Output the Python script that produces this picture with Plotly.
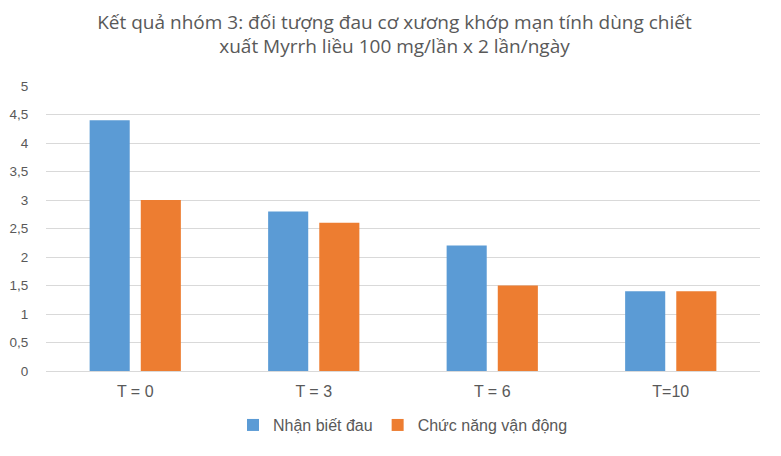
import plotly.graph_objs as go

categories = ['T = 0', 'T = 3', 'T = 6', 'T=10']
nhan_biet_dau = [4.4, 2.8, 2.2, 1.4]
chuc_nang_van_dong = [3.0, 2.6, 1.5, 1.4]
y_ticks = [0, 0.5, 1, 1.5, 2, 2.5, 3, 3.5, 4, 4.5, 5]

fig = go.Figure()
fig.add_trace(go.Bar(x=categories, y=nhan_biet_dau, name='Nhận biết đau',
                     marker=dict(color='#5B9BD5', line=dict(width=0))))
fig.add_trace(go.Bar(x=categories, y=chuc_nang_van_dong, name='Chức năng vận động',
                     marker=dict(color='#ED7D31', line=dict(width=0))))

# page body has an 8px margin, so the figure is a bit smaller than the window
fig.update_layout(
    width=773, height=448,
    paper_bgcolor='white', plot_bgcolor='white',
    margin=dict(l=38, r=21, t=78, b=85, autoexpand=False),
    separators=',.',
    barmode='group', bargap=0.427, bargroupgap=0.216,
    title=dict(
        text='Kết quả nhóm 3: đối tượng đau cơ xương khớp mạn tính dùng chiết<br>xuất Myrrh liều 100 mg/lần x 2 lần/ngày',
        x=0.5, xanchor='center', y=0.954, yanchor='middle',
        font=dict(family='Open Sans', size=19, color='#595959'),
    ),
    font=dict(family='Liberation Sans, Arial', size=16, color='#595959'),
    xaxis=dict(showgrid=False, showline=True, linecolor='#d9d9d9', linewidth=1,
               ticks='', automargin=False, ticklabelstandoff=6,
               tickfont=dict(size=16, color='#595959')),
    yaxis=dict(range=[0, 5], tickvals=y_ticks, showgrid=True, gridcolor='#d9d9d9',
               gridwidth=1, zeroline=False, showline=False, ticks='outside',
               ticklen=14, tickcolor='rgba(0,0,0,0)', automargin=False,
               tickfont=dict(size=13.5, color='#595959')),
    legend=dict(orientation='h', x=0.5, xanchor='center', y=-0.13, yanchor='top',
                font=dict(size=16, color='#595959'), itemwidth=30,
                traceorder='normal'),
)

fig.write_html("out.html")
